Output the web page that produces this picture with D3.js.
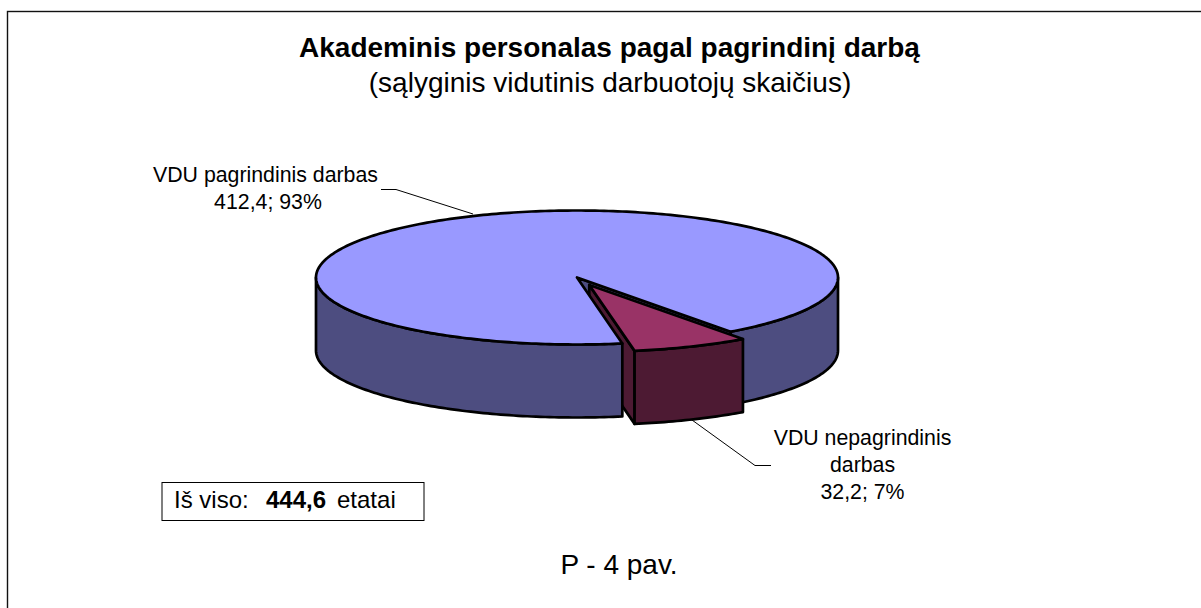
<!DOCTYPE html>
<html><head><meta charset="utf-8">
<script src="https://cdn.jsdelivr.net/npm/d3@7"></script>
<style>html,body{margin:0;padding:0;background:#fff;overflow:hidden}svg{display:block}text{font-family:"Liberation Sans",Arial,sans-serif;fill:#000}</style>
</head><body><svg id="c" width="1201" height="608"></svg>
<script>
const categories = ["VDU pagrindinis darbas", "VDU nepagrindinis darbas"];
const values = [412.4, 32.2];
const percents = ["93%", "7%"];
const topColors = ["#9999FF", "#993366"];
const sideColors = ["#4D4D80", "#4D1A33"];
const titleText = "Akademinis personalas pagal pagrindinį darbą";
const subtitleText = "(sąlyginis vidutinis darbuotojų skaičius)";
const figureText = "P - 4 pav.";
const totalValue = "444,6";

const svg = d3.select("#c");
const deg = Math.PI / 180;
const rot = 170 * deg;
const pie = d3.pie().sort(null).startAngle(rot).endAngle(rot + 2 * Math.PI);
const arcs = pie(values);
const depth = 73, explode = 0.12;
const X = d3.scaleLinear().domain([-1, 1]).range([316, 838]);
const Y = d3.scaleLinear().domain([-1, 1]).range([210.5, 344.5]);
const P = (a, k = 1, o = [0, 0], d = 0) => [X(k * Math.sin(a) + o[0]), Y(-k * Math.cos(a) + o[1]) + d];
const line = d3.line();
const sample = (a0, a1, o, d) => { const n = Math.max(2, Math.ceil(Math.abs(a1 - a0) / deg)); return d3.range(n + 1).map(i => P(a0 + (a1 - a0) * i / n, 1, o, d)); };
const draw = (pts, fill, closed = true) => svg.append("path").attr("d", line(pts) + (closed ? "Z" : "")).attr("fill", fill)
  .attr("stroke", "#000").attr("stroke-width", 2.7).attr("stroke-linejoin", "round");
const wall = (a0, a1, o, c) => draw([...sample(a0, a1, o, 0), ...sample(a1, a0, o, depth)], c);
const sector = (a0, a1, o, c) => draw([P(0, 0, o), ...sample(a0, a1, o, 0)], c);
const radial = (a, o, c) => draw([P(a, 0, o), P(a, 1, o), P(a, 1, o, depth), P(a, 0, o, depth)], c);

frame();
const big = arcs[0], small = arcs[1];
const smallA0 = small.startAngle - 2 * Math.PI, smallA1 = small.endAngle - 2 * Math.PI;
const mid = (smallA0 + smallA1) / 2;
const off = [explode * Math.sin(mid), -explode * Math.cos(mid)];
// painter's order, back to front
wall(90 * deg, smallA0, [0, 0], sideColors[0]);
radial(smallA0, [0, 0], sideColors[0]);
radial(smallA1, off, sideColors[1]);
wall(smallA1, 270 * deg, [0, 0], sideColors[0]);
sector(big.startAngle, big.endAngle, [0, 0], topColors[0]);
wall(smallA0, smallA1, off, sideColors[1]);
sector(smallA0, smallA1, off, topColors[1]);

// leaders
const leader = pts => svg.append("path").attr("d", line(pts)).attr("fill", "none").attr("stroke", "#000").attr("stroke-width", 1);
leader([[381, 189.5], [396, 189.5], [473, 214]]);
leader([[692, 420], [755, 465.5], [771, 465.5]]);

const T = (s, x, y, size, weight, anchor = "middle") => svg.append("text").attr("x", x).attr("y", y).attr("font-size", size)
  .attr("font-weight", weight || "normal").attr("text-anchor", anchor).text(s);
const fmt = v => String(v).replace(".", ",");
T(titleText, 609.5, 57, 28, "bold");
T(subtitleText, 610, 92, 28);
T(categories[0], 265.5, 182, 21.3);
T(`${fmt(values[0])}; ${percents[0]}`, 268, 209, 21.3);
T("VDU nepagrindinis", 862.5, 445, 21.3);
T("darbas", 862.5, 472, 21.3);
T(`${fmt(values[1])}; ${percents[1]}`, 862.5, 499, 21.3);
svg.append("rect").attr("x", 162).attr("y", 482.5).attr("width", 262).attr("height", 38).attr("fill", "#fff").attr("stroke", "#000").attr("stroke-width", 1);
const t = T("", 174, 508, 24, null, "start");
t.append("tspan").attr("x", 174).text("Iš viso:");
t.append("tspan").attr("x", 266).attr("font-weight", "bold").text(totalValue);
t.append("tspan").attr("x", 337).text("etatai");
T(figureText, 619, 574, 28);

function frame() {
  svg.append("rect").attr("x", 7.5).attr("y", 11.5).attr("width", 1300).attr("height", 700).attr("fill", "#fff").attr("stroke", "#111").attr("stroke-width", 1.4);
}
</script></body></html>
